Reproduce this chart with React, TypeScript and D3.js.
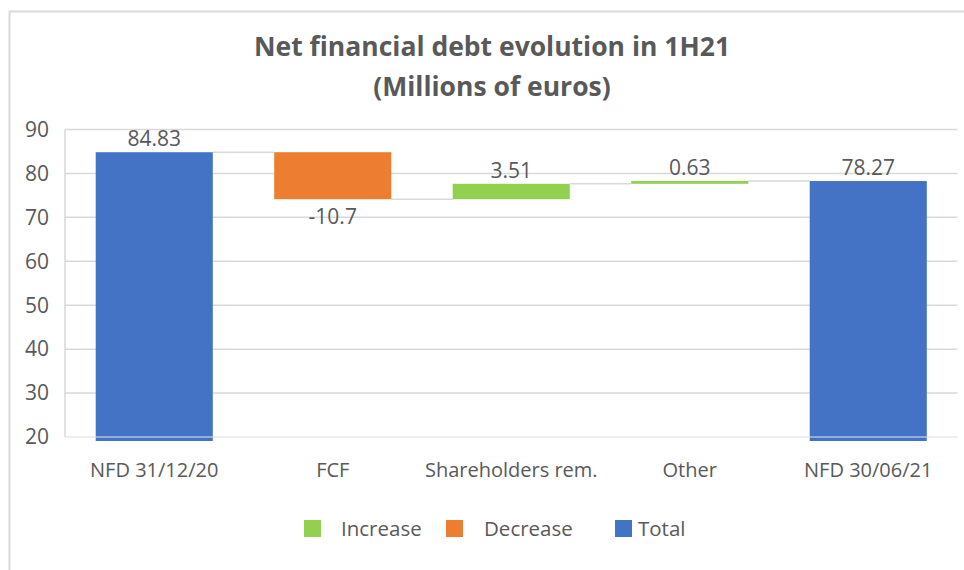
import React from 'react';
import * as d3 from 'd3';

// waterfall data
const categories = ['NFD 31/12/20', 'FCF', 'Shareholders rem.', 'Other', 'NFD 30/06/21'];
const values = [84.83, -10.7, 3.51, 0.63, 78.27];
const isTotal = [true, false, false, false, true];
const yTicks = [20, 30, 40, 50, 60, 70, 80, 90];
const legendItems = ['Increase', 'Decrease', 'Total'];

const COLORS: Record<string, string> = {
  Increase: '#92D050',
  Decrease: '#ED7D31',
  Total: '#4472C4',
};
const TEXT = '#595959';
const GRID = '#d9d9d9';
const FONT = "'Open Sans', sans-serif";

export default function App() {
  const width = 964;
  const height = 570;
  const margin = { top: 129.5, right: 6.5, bottom: 133, left: 65 };

  const x = d3
    .scaleBand()
    .domain(categories)
    .range([margin.left, width - margin.right])
    .paddingInner(0.344)
    .paddingOuter(0.172);

  const y = d3
    .scaleLinear()
    .domain([20, 90])
    .range([height - margin.bottom, margin.top]);

  // running totals -> start/end of each bar
  let running = 0;
  const bars = categories.map((c, i) => {
    let start: number;
    let end: number;
    let kind: string;
    if (isTotal[i]) {
      start = 20;
      end = values[i];
      running = values[i];
      kind = 'Total';
    } else {
      start = running;
      end = running + values[i];
      running = end;
      kind = values[i] >= 0 ? 'Increase' : 'Decrease';
    }
    return { c, i, start, end, kind, v: values[i] };
  });

  const bw = x.bandwidth();
  const bottomY = y(20);

  return (
    <svg
      width={width}
      height={height}
      style={{ position: 'absolute', left: 0, top: 0, background: '#fff' }}
      fontFamily={FONT}
    >
      <rect x={9.5} y={11.5} width={width + 20} height={height + 20} fill="#fff" stroke={GRID} strokeWidth={2} />

      {/* title */}
      <text x={492} y={56} textAnchor="middle" fontSize={26.5} fontWeight="bold" fill={TEXT}>
        Net financial debt evolution in 1H21
      </text>
      <text x={492} y={96} textAnchor="middle" fontSize={26.5} fontWeight="bold" fill={TEXT}>
        (Millions of euros)
      </text>

      {/* gridlines */}
      {yTicks.map((t) => (
        <line key={t} x1={margin.left} x2={width - margin.right} y1={y(t)} y2={y(t)} stroke={GRID} strokeWidth={1.5} />
      ))}
      <line x1={margin.left} x2={margin.left} y1={y(90)} y2={bottomY} stroke={GRID} strokeWidth={1.5} />

      {/* y tick labels */}
      {yTicks.map((t) => (
        <text key={t} x={49} y={y(t)} dy="0.35em" textAnchor="end" fontSize={21} fill={TEXT}>
          {t}
        </text>
      ))}

      {/* connectors */}
      {bars.slice(0, -1).map((b) => (
        <line
          key={'c' + b.i}
          x1={x(b.c)! + bw}
          x2={x(categories[b.i + 1])!}
          y1={y(b.end)}
          y2={y(b.end)}
          stroke={GRID}
          strokeWidth={1.5}
        />
      ))}

      {/* bars */}
      {bars.map((b) => {
        const top = y(Math.max(b.start, b.end));
        const bot = b.kind === 'Total' ? bottomY + 4 : y(Math.min(b.start, b.end));
        return (
          <rect key={b.c} x={x(b.c)} y={top} width={bw} height={Math.max(bot - top, 1.5)} fill={COLORS[b.kind]} />
        );
      })}

      {/* axis line on top of bars */}
      <line x1={margin.left} x2={width - margin.right} y1={bottomY} y2={bottomY} stroke="#fff" strokeOpacity={0.55} strokeWidth={1.5} />

      {/* data labels */}
      {bars.map((b) => {
        const cx = x(b.c)! + bw / 2;
        const ly = b.v < 0 ? y(b.end) + 25 : y(b.end) - 6;
        return (
          <text key={'l' + b.i} x={cx} y={ly} textAnchor="middle" fontSize={21} fill={TEXT}>
            {b.v}
          </text>
        );
      })}

      {/* category labels */}
      {categories.map((c) => (
        <text key={c} x={x(c)! + bw / 2} y={470} dy="0.35em" textAnchor="middle" fontSize={20} fill={TEXT}>
          {c}
        </text>
      ))}

      {/* legend */}
      {legendItems.map((l, i) => {
        const lx = [304, 446, 615][i];
        const tx = [341, 484, 638][i];
        return (
          <g key={l}>
            <rect x={lx} y={520} width={17} height={17} fill={COLORS[l]} />
            <text x={tx} y={528.5} dy="0.35em" fontSize={20.5} fill={TEXT}>
              {l}
            </text>
          </g>
        );
      })}
    </svg>
  );
}
